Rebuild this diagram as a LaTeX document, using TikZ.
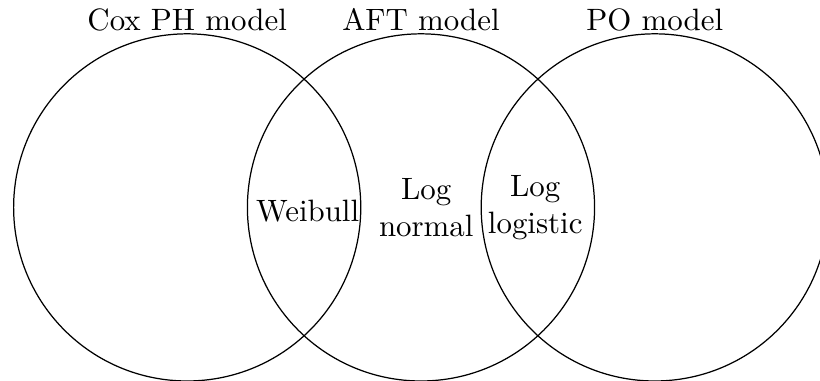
\documentclass[tikz,border=0pt]{standalone}
\usepackage{tikz}
\usetikzlibrary{positioning}
\begin{document}
\begin{tikzpicture}[node distance=2.66cm,
    model/.style={circle,draw,minimum size=3.95cm,inner sep=0pt},
    title/.style={anchor=base,inner sep=0pt},
    overlap/.style={align=center,inner sep=0pt}]
  \useasboundingbox (-2.13,-1.974) rectangle (7.2,2.36);

  \node[model] (cox)                {};
  \node[model] (aft) [right of=cox] {};
  \node[model] (po)  [right of=aft] {};

  \node[title] (coxname) at ([yshift=0.8pt]cox.north) {Cox PH model};
  \node[title] (aftname) at ([yshift=0.8pt]aft.north) {AFT model};
  \node[title] (poname)  at ([yshift=0.8pt]po.north)  {PO model};

  \node[overlap] (weibull)  at (1.37,-0.04) {Weibull};
  \node[overlap] (lognorm)  at (2.72,0)     {Log\\normal};
  \node[overlap] (loglogis) at (3.96,0)     {Log\\logistic};
\end{tikzpicture}
\end{document}
